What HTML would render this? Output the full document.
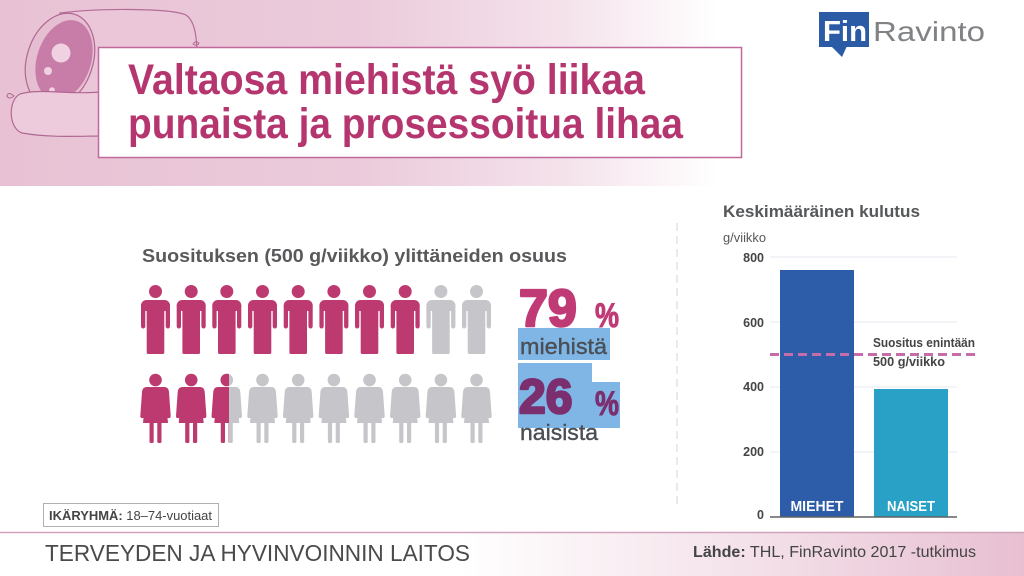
<!DOCTYPE html>
<html>
<head>
<meta charset="utf-8">
<style>
  html,body{margin:0;padding:0;background:#fff;}
  svg{display:block;}
  text{font-family:"Liberation Sans", Arial, sans-serif;}
</style>
</head>
<body>
<svg width="1024" height="576" viewBox="0 0 1024 576" xmlns="http://www.w3.org/2000/svg" font-family="Liberation Sans, Arial, sans-serif">
  <defs>
    <linearGradient id="hdr" x1="0" y1="0" x2="1024" y2="0" gradientUnits="userSpaceOnUse">
      <stop offset="0" stop-color="#e8c2d4"/>
      <stop offset="0.35" stop-color="#ebcbdb"/>
      <stop offset="0.55" stop-color="#f4e2eb"/>
      <stop offset="0.70" stop-color="#ffffff"/>
      <stop offset="1" stop-color="#ffffff"/>
    </linearGradient>
    <linearGradient id="ftr" x1="0" y1="0" x2="1024" y2="0" gradientUnits="userSpaceOnUse">
      <stop offset="0" stop-color="#ffffff"/>
      <stop offset="0.45" stop-color="#ffffff"/>
      <stop offset="0.75" stop-color="#f3dfe8"/>
      <stop offset="1" stop-color="#e7bfd1"/>
    </linearGradient>
    <g id="man">
      <circle cx="0" cy="-8.5" r="6.5"/>
      <rect x="-14.5" y="0" width="29" height="11" rx="5.5"/>
      <rect x="-14.5" y="4" width="4.3" height="24.5" rx="2.1"/>
      <rect x="10.2" y="4" width="4.3" height="24.5" rx="2.1"/>
      <rect x="-8.8" y="0" width="17.6" height="54" rx="1.5"/>
    </g>
    <g id="woman">
      <circle cx="0" cy="-7" r="6.3"/>
      <path d="M -9 0 H 9 Q 13 0 13.5 5 L 15.2 29 A 2 2 0 0 1 11.2 29.3 L 10 10 L 12.5 36 H -12.5 L -10 10 L -11.2 29.3 A 2 2 0 0 1 -15.2 29 L -13.5 5 Q -13 0 -9 0 Z"/>
      <rect x="-6" y="35" width="4.2" height="21" rx="1.2"/>
      <rect x="1.8" y="35" width="4.2" height="21" rx="1.2"/>
    </g>
    <clipPath id="half"><rect x="0" y="360" width="229" height="100"/></clipPath>
  </defs>

  <!-- header band -->
  <rect x="0" y="0" width="1024" height="186" fill="url(#hdr)"/>

  <!-- ham / sausage illustration -->
  <path d="M 60 13 C 100 8 170 8 186 15 C 196 22 197 40 197 60 L 197 120 L 70 120 Z" fill="#eac6d8" stroke="#b46c96" stroke-width="1.2"/>
  <path d="M 193 44 q 3 -4 6 -1 q -2 4 -6 1 Z" fill="none" stroke="#b46c96" stroke-width="1"/>
  <ellipse cx="60" cy="60" rx="33" ry="48" transform="rotate(18 60 60)" fill="#e6bed1" stroke="#b06892" stroke-width="1.2"/>
  <ellipse cx="64" cy="60" rx="27" ry="41" transform="rotate(18 64 60)" fill="#c87ca8"/>
  <circle cx="61" cy="53" r="9.5" fill="#efd1e1"/>
  <circle cx="48" cy="71" r="4" fill="#efd1e1"/>
  <circle cx="52" cy="90" r="2.8" fill="#efd1e1"/>
  <path d="M 100 92 C 70 95 40 88 20 94 C 8 100 8 128 22 133 C 50 138 80 136 100 136 Z" fill="#eecbdc" stroke="#b06892" stroke-width="1.2"/>
  <path d="M 14 96 q -6 -5 -7 0 q 2 4 7 0 Z" fill="none" stroke="#b06892" stroke-width="1"/>

  <!-- title box -->
  <rect x="98.5" y="47.5" width="643" height="110" fill="#ffffff" stroke="#c0699a" stroke-width="1.5"/>
  <text x="128" y="94" font-size="43" font-weight="bold" fill="#b5366f" textLength="517" lengthAdjust="spacingAndGlyphs">Valtaosa miehistä syö liikaa</text>
  <text x="128" y="138" font-size="43" font-weight="bold" fill="#b5366f" textLength="555" lengthAdjust="spacingAndGlyphs">punaista ja prosessoitua lihaa</text>

  <!-- logo -->
  <rect x="819" y="12" width="50" height="35" fill="#2b5ba5"/>
  <polygon points="831,46 842,57 847,46" fill="#2b5ba5"/>
  <text x="823" y="41" font-size="29" font-weight="bold" fill="#ffffff" textLength="44" lengthAdjust="spacingAndGlyphs">Fin</text>
  <text x="873" y="41" font-size="28" fill="#808285" textLength="112" lengthAdjust="spacingAndGlyphs">Ravinto</text>

  <!-- subtitle -->
  <text x="142" y="262" font-size="18" font-weight="bold" fill="#58595b" textLength="425" lengthAdjust="spacingAndGlyphs">Suosituksen (500 g/viikko) ylittäneiden osuus</text>

  <!-- men row -->
  <g transform="translate(0,300)">
    <use href="#man" x="155.5" fill="#bd3a70"/>
    <use href="#man" x="191.2" fill="#bd3a70"/>
    <use href="#man" x="226.8" fill="#bd3a70"/>
    <use href="#man" x="262.5" fill="#bd3a70"/>
    <use href="#man" x="298.2" fill="#bd3a70"/>
    <use href="#man" x="333.9" fill="#bd3a70"/>
    <use href="#man" x="369.5" fill="#bd3a70"/>
    <use href="#man" x="405.2" fill="#bd3a70"/>
    <use href="#man" x="440.9" fill="#c6c6ca"/>
    <use href="#man" x="476.5" fill="#c6c6ca"/>
  </g>

  <!-- women row -->
  <g transform="translate(0,387)">
    <use href="#woman" x="155.5" fill="#bd3a70"/>
    <use href="#woman" x="191.2" fill="#bd3a70"/>
    <use href="#woman" x="226.8" fill="#c6c6ca"/>
    <use href="#woman" x="262.5" fill="#c6c6ca"/>
    <use href="#woman" x="298.2" fill="#c6c6ca"/>
    <use href="#woman" x="333.9" fill="#c6c6ca"/>
    <use href="#woman" x="369.5" fill="#c6c6ca"/>
    <use href="#woman" x="405.2" fill="#c6c6ca"/>
    <use href="#woman" x="440.9" fill="#c6c6ca"/>
    <use href="#woman" x="476.5" fill="#c6c6ca"/>
  </g>
  <g clip-path="url(#half)">
    <use href="#woman" x="226.8" y="387" fill="#bd3a70"/>
  </g>

  <!-- percentages -->
  <rect x="518" y="328" width="92" height="32" fill="#7fb6e6"/>
  <rect x="518" y="363" width="74" height="21" fill="#7fb6e6"/>
  <rect x="518" y="382" width="102" height="46" fill="#7fb6e6"/>
  <text x="519" y="326" font-family="Liberation Sans, Arial, sans-serif" font-size="52" font-weight="bold" fill="#c03a76" stroke="#c03a76" stroke-width="2.5" stroke-linejoin="round">79</text>
  <text x="595" y="327" font-size="34" font-weight="bold" fill="#c03a76" stroke="#c03a76" stroke-width="1" textLength="24" lengthAdjust="spacingAndGlyphs">%</text>
  <text x="520" y="354" font-size="22" fill="#4b4f55" stroke="#4b4f55" stroke-width="0.4" textLength="87" lengthAdjust="spacingAndGlyphs">miehistä</text>
  <text x="519" y="413" font-family="Liberation Sans, Arial, sans-serif" font-size="48" font-weight="bold" fill="#7b2f6f" stroke="#7b2f6f" stroke-width="2.5" stroke-linejoin="round">26</text>
  <text x="595" y="415" font-size="34" font-weight="bold" fill="#7b2f6f" stroke="#7b2f6f" stroke-width="1" textLength="24" lengthAdjust="spacingAndGlyphs">%</text>
  <text x="520" y="440" font-size="22" fill="#4b4f55" stroke="#4b4f55" stroke-width="0.4" textLength="78" lengthAdjust="spacingAndGlyphs">naisista</text>

  <!-- separator -->
  <line x1="677" y1="223" x2="677" y2="507" stroke="#d6d6d6" stroke-width="1" stroke-dasharray="8 5"/>

  <!-- chart -->
  <text x="723" y="217" font-size="17" font-weight="bold" fill="#555759" textLength="197" lengthAdjust="spacingAndGlyphs">Keskimääräinen kulutus</text>
  <text x="723" y="242" font-size="12.5" fill="#555759" textLength="43" lengthAdjust="spacingAndGlyphs">g/viikko</text>

  <g stroke="#e4e9f1" stroke-width="1">
    <line x1="770" y1="257" x2="957" y2="257"/>
    <line x1="770" y1="322" x2="957" y2="322"/>
    <line x1="770" y1="387" x2="957" y2="387"/>
    <line x1="770" y1="452" x2="957" y2="452"/>
  </g>
  <g font-size="12.5" font-weight="bold" fill="#444" text-anchor="end">
    <text x="764" y="262">800</text>
    <text x="764" y="327">600</text>
    <text x="764" y="391">400</text>
    <text x="764" y="456">200</text>
    <text x="764" y="519">0</text>
  </g>

  <rect x="780" y="270" width="74" height="247" fill="#2d5da9"/>
  <rect x="874" y="389" width="74" height="128" fill="#29a0c6"/>
  <line x1="770" y1="517" x2="957" y2="517" stroke="#5f6062" stroke-width="1.5"/>

  <text x="817" y="511" font-size="15" font-weight="bold" fill="#ffffff" text-anchor="middle" textLength="53" lengthAdjust="spacingAndGlyphs">MIEHET</text>
  <text x="911" y="511" font-size="15" font-weight="bold" fill="#ffffff" text-anchor="middle" textLength="48" lengthAdjust="spacingAndGlyphs">NAISET</text>

  <line x1="770" y1="354.5" x2="978" y2="354.5" stroke="#c66cab" stroke-width="3" stroke-dasharray="9 5"/>
  <text x="873" y="347" font-size="13" font-weight="bold" fill="#444" textLength="102" lengthAdjust="spacingAndGlyphs">Suositus enintään</text>
  <text x="873" y="366" font-size="13" font-weight="bold" fill="#444" textLength="72" lengthAdjust="spacingAndGlyphs">500 g/viikko</text>

  <!-- age box -->
  <rect x="43.5" y="503.5" width="175" height="23" fill="#ffffff" stroke="#b0b0b0" stroke-width="1"/>
  <text x="49" y="520" font-size="12.5" fill="#444" textLength="163" lengthAdjust="spacingAndGlyphs"><tspan font-weight="bold">IKÄRYHMÄ:</tspan> 18–74-vuotiaat</text>

  <!-- footer -->
  <rect x="0" y="533" width="1024" height="43" fill="url(#ftr)"/>
  <line x1="0" y1="532.5" x2="1024" y2="532.5" stroke="#d1a3bb" stroke-width="1.5"/>
  <text x="45" y="561" font-size="23" fill="#4a4a4c" textLength="425" lengthAdjust="spacingAndGlyphs">TERVEYDEN JA HYVINVOINNIN LAITOS</text>
  <text x="693" y="557" font-size="16" fill="#444" textLength="283" lengthAdjust="spacingAndGlyphs"><tspan font-weight="bold">Lähde:</tspan> THL, FinRavinto 2017 -tutkimus</text>
</svg>
</body>
</html>
